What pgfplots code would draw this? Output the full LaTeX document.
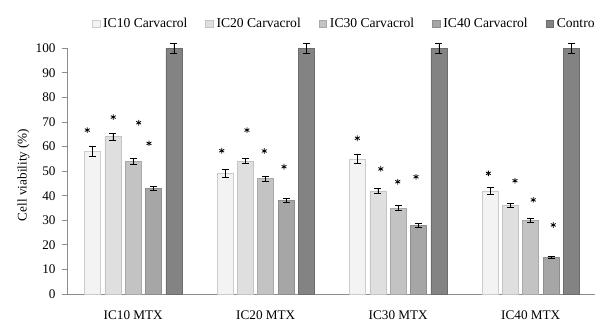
\documentclass[border=0pt]{standalone}
\usepackage{fontspec}
\setmainfont{Liberation Serif}
\usepackage{pgfplots}
\usepackage{pgfplotstable}
\pgfplotsset{compat=1.18}
\definecolor{cA}{HTML}{F3F3F3}
\definecolor{cAe}{HTML}{CCCCCC}
\definecolor{cB}{HTML}{DFDFDF}
\definecolor{cBe}{HTML}{C4C4C4}
\definecolor{cC}{HTML}{C3C3C3}
\definecolor{cCe}{HTML}{A8A8A8}
\definecolor{cD}{HTML}{A6A6A6}
\definecolor{cDe}{HTML}{8E8E8E}
\definecolor{cE}{HTML}{838383}
\definecolor{cEe}{HTML}{6C6C6C}
\pgfplotstableread{
x y e
-0.307 58 2.1
0.693 49 1.7
1.693 55 2.0
2.693 42 1.5
}\sA
\pgfplotstableread{
x y e
-0.1535 64 1.4
0.8465 54 1.0
1.8465 42 1.0
2.8465 36 0.8
}\sB
\pgfplotstableread{
x y e
0 54 1.2
1 47 1.0
2 35 0.9
3 30 0.8
}\sC
\pgfplotstableread{
x y e
0.1535 43 0.8
1.1535 38 0.75
2.1535 28 0.7
3.1535 15 0.35
}\sD
\pgfplotstableread{
x y e
0.307 100 2
1.307 100 2
2.307 100 2
3.307 100 2
}\sE
\pgfplotstableread{
x y
-0.347 66.7
-0.151 72.0
0.041 69.7
0.119 61.3
0.668 58.3
0.858 66.7
0.989 58.2
1.138 51.8
1.691 63.4
1.868 50.9
1.996 45.7
2.134 47.7
2.680 49.1
2.881 46.1
3.019 38.3
3.170 28.1
}\stars
\newcommand{\tw}{\fontsize{13.2bp}{15bp}\selectfont}
\newcommand{\lw}{\fontsize{13.6bp}{15bp}\selectfont}
\begin{document}
\begin{tikzpicture}
\begin{axis}[
  at={(67bp,26bp)}, anchor=south west,
  scale only axis, width=530bp, height=245.7bp,
  xmin=-0.5, xmax=3.5, ymin=0, ymax=100,
  clip=false,
  axis lines*=left,
  axis line style={color=black!45, line width=0.9bp},
  xtick={0,1,2,3},
  xticklabels={IC10 MTX,IC20 MTX,IC30 MTX,IC40 MTX},
  ytick={0,10,...,100},
  tick align=outside,
  major tick length=5bp,
  tick style={color=black!45, line width=0.8bp},
  x tick style={draw=none},
  /pgf/number format/assume math mode=true,
  tick label style={font=\tw},
  xticklabel style={anchor=base, yshift=-20bp},
  yticklabel style={xshift=-3bp},
  every axis y label/.style={at={(axis description cs:-0.082,0.485)}, rotate=90, anchor=center},
  ylabel={Cell viability (\%)},
  label style={font=\tw},
  legend columns=5,
  legend image code/.code={\draw[#1] (0bp,-3.8bp) rectangle (7.6bp,3.8bp);},
  legend style={draw=none, fill=none, inner sep=0pt, font=\lw,
    at={(axis description cs:0.0467,1.1)}, anchor=west,
    nodes={inner sep=0pt},
    /tikz/every odd column/.append style={column sep=3bp},
    /tikz/every even column/.append style={column sep=18bp}},
  error bars/error bar style={black, line width=0.8bp},
  error bars/error mark options={rotate=90, mark size=3.5bp, line width=0.8bp, black},
]
\addplot[ybar, bar width=16bp, bar shift=0pt, fill=cA, draw=cAe, line width=0.6bp,
  error bars/.cd, y dir=both, y explicit] table[x=x, y=y, y error=e] {\sA};
\addlegendentry{IC10 Carvacrol}
\addplot[ybar, bar width=16bp, bar shift=0pt, fill=cB, draw=cBe, line width=0.6bp,
  error bars/.cd, y dir=both, y explicit] table[x=x, y=y, y error=e] {\sB};
\addlegendentry{IC20 Carvacrol}
\addplot[ybar, bar width=16bp, bar shift=0pt, fill=cC, draw=cCe, line width=0.6bp,
  error bars/.cd, y dir=both, y explicit] table[x=x, y=y, y error=e] {\sC};
\addlegendentry{IC30 Carvacrol}
\addplot[ybar, bar width=16bp, bar shift=0pt, fill=cD, draw=cDe, line width=0.6bp,
  error bars/.cd, y dir=both, y explicit] table[x=x, y=y, y error=e] {\sD};
\addlegendentry{IC40 Carvacrol}
\addplot[ybar, bar width=16bp, bar shift=0pt, fill=cE, draw=cEe, line width=0.6bp,
  error bars/.cd, y dir=both, y explicit] table[x=x, y=y, y error=e] {\sE};
\addlegendentry{Control}
\addplot[only marks, mark=asterisk, mark size=2.8bp, black, line width=0.8bp, forget plot]
  table[x=x, y=y] {\stars};
\end{axis}
\pgfresetboundingbox
\path[use as bounding box] (0,0) rectangle (595bp,320bp);
\end{tikzpicture}
\end{document}
